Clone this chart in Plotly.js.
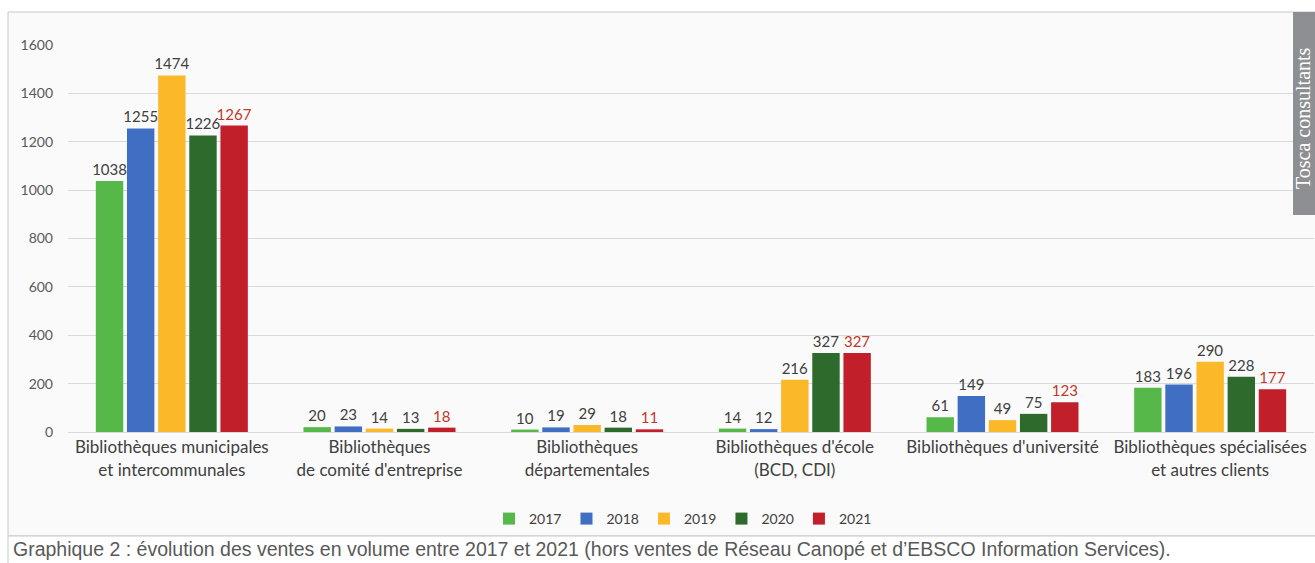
<!DOCTYPE html>
<html>
<head>
<meta charset="utf-8">
<script src="https://cdn.plot.ly/plotly-3.0.1.min.js"></script>
<style>html,body{margin:0;padding:0;background:#fff;}#chart{width:1315px;height:563px;}</style>
</head>
<body>
<div id="chart"></div>
<script>
const categories = [
  "Bibliothèques municipales<br>et intercommunales",
  "Bibliothèques<br>de comité d'entreprise",
  "Bibliothèques<br>départementales",
  "Bibliothèques d'école<br>(BCD, CDI)",
  "Bibliothèques d'université",
  "Bibliothèques spécialisées<br>et autres clients"
];
const years = ["2017", "2018", "2019", "2020", "2021"];
const v2017 = [1038, 20, 10, 14, 61, 183];
const v2018 = [1255, 23, 19, 12, 149, 196];
const v2019 = [1474, 14, 29, 216, 49, 290];
const v2020 = [1226, 13, 18, 327, 75, 228];
const v2021 = [1267, 18, 11, 327, 123, 177];
const series = [v2017, v2018, v2019, v2020, v2021];
const colors = ["#55B848", "#3F6EC3", "#FBB829", "#2E6A2C", "#C1202B"];
const labelColors = ["#404040", "#404040", "#404040", "#404040", "#C0392B"];

const L = 68, R = 1314, T = 45, B = 432;
const W = R - L, H = B - T;
const px = x => (x - L) / W;
const py = y => (B - y) / H;
const FONT = "Lato, Noto Sans, sans-serif";

const traces = series.map((vals, i) => ({
  type: "bar",
  name: years[i],
  x: categories,
  y: vals,
  marker: {color: colors[i]},
  text: vals.map(String),
  textposition: "outside",
  constraintext: "none",
  textfont: {family: FONT, size: 15, color: labelColors[i]},
  cliponaxis: false,
  hoverinfo: "x+y+name"
}));

const layout = {
  width: 1315, height: 563,
  margin: {l: L, r: 1315 - R, t: T, b: 563 - B, pad: 0},
  paper_bgcolor: "#ffffff",
  plot_bgcolor: "rgba(0,0,0,0)",
  barmode: "group",
  bargap: 0.25,
  bargroupgap: 0.12,
  showlegend: true,
  legend: {
    orientation: "h", x: px(683), xanchor: "center", y: py(519), yanchor: "middle",
    font: {family: FONT, size: 14, color: "#404040"},
    itemwidth: 30, bgcolor: "rgba(0,0,0,0)", traceorder: "normal"
  },
  xaxis: {
    type: "category",
    tickfont: {family: FONT, size: 17, color: "#404040"},
    showline: true, linecolor: "#D9D9D9", ticks: "", showgrid: false,
    automargin: false
  },
  yaxis: {
    range: [0, 1600], dtick: 200,
    tickfont: {family: FONT, size: 14, color: "#595959"},
    gridcolor: "#D9D9D9", gridwidth: 1, zeroline: true, zerolinecolor: "#D9D9D9",
    ticks: "", ticklabelstandoff: 14, automargin: false
  },
  shapes: [
    {type: "rect", xref: "paper", yref: "paper", x0: px(8), x1: px(1330), y0: py(536), y1: py(12),
     line: {color: "#C8C8C8", width: 1}, fillcolor: "#FAFAFA", layer: "below"},
    {type: "rect", xref: "paper", yref: "paper", x0: px(8), x1: px(1330), y0: py(575), y1: py(536),
     line: {color: "#C8C8C8", width: 1}, fillcolor: "#FFFFFF", layer: "below"},
    {type: "rect", xref: "paper", yref: "paper", x0: px(1293), x1: px(1330), y0: py(215), y1: py(12),
     line: {width: 0}, fillcolor: "#8E8F92", layer: "above"}
  ],
  annotations: [
    {xref: "paper", yref: "paper", x: px(11), y: py(549), xanchor: "left", yanchor: "middle",
     text: "Graphique 2 : évolution des ventes en volume entre 2017 et 2021 (hors ventes de Réseau Canopé et d’EBSCO Information Services).",
     showarrow: false,
     font: {family: "Liberation Sans, Arial, sans-serif", size: 19.5, color: "#595959"}},
    {xref: "paper", yref: "paper", x: px(1303), y: py(118), xanchor: "center", yanchor: "middle",
     text: "Tosca consultants", textangle: -90, showarrow: false,
     font: {family: "Liberation Serif, DejaVu Serif, serif", size: 20, color: "#FFFFFF"}}
  ]
};

Plotly.newPlot("chart", traces, layout, {displayModeBar: false, staticPlot: true});
</script>
</body>
</html>
